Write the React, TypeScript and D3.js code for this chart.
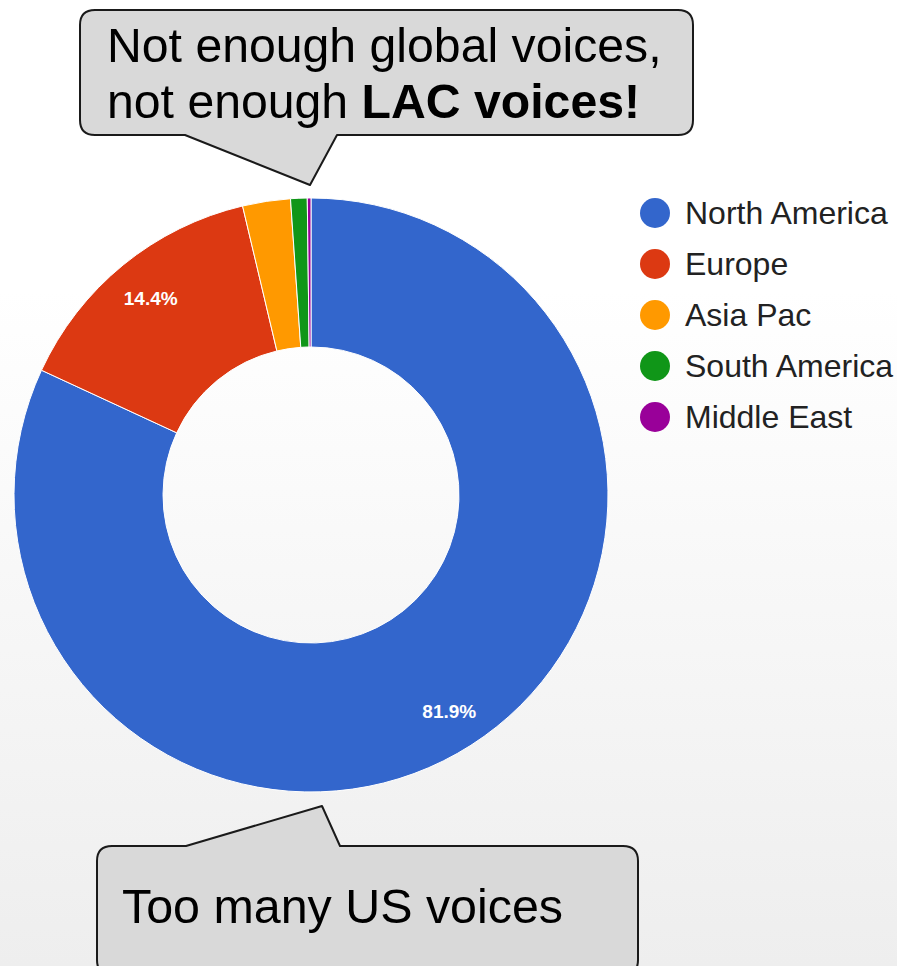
import React from "react";
import * as d3 from "d3";

const regions = ["North America", "Europe", "Asia Pac", "South America", "Middle East"];
const shares = [81.9, 14.4, 2.6, 0.9, 0.2];
const colors = ["#3366cc", "#dc3912", "#ff9900", "#109618", "#990099"];
const shownLabels = ["81.9%", "14.4%", "", "", ""];

const W = 897;
const H = 966;
const cx = 311;
const cy = 495;
const R = 297;
const r = 148;

export default function App() {
  const pie = d3.pie<number>().sort(null).value((d) => d)(shares);
  const arc = d3.arc<d3.PieArcDatum<number>>().innerRadius(r).outerRadius(R);
  const labelArc = d3.arc<d3.PieArcDatum<number>>().innerRadius(255).outerRadius(255);
  const legendY = d3.scalePoint<string>().domain(regions).range([213, 417]);

  const font = "'Liberation Sans', Arial, sans-serif";

  return (
    <svg width={W} height={H} style={{ position: "absolute", left: 0, top: 0 }} fontFamily={font}>
      <defs>
        <linearGradient id="bg" x1="0" y1="0" x2="0" y2="1">
          <stop offset="0.3" stopColor="#ffffff" />
          <stop offset="1" stopColor="#eeeeee" />
        </linearGradient>
      </defs>
      <rect x={0} y={0} width={W} height={H} fill="url(#bg)" />
      <g transform={`translate(${cx},${cy})`}>
        {pie.map((p, i) => (
          <path key={i} d={arc(p) || ""} fill={colors[i]} stroke="#ffffff" strokeWidth={1} />
        ))}
        {pie.map((p, i) => {
          if (!shownLabels[i]) return null;
          const [x, y] = labelArc.centroid(p);
          return (
            <text key={"l" + i} x={x + 1} y={y + 1} dy="0.35em" textAnchor="middle" fill="#ffffff" fontSize={19} fontWeight="bold">
              {shownLabels[i]}
            </text>
          );
        })}
      </g>
      <g>
        {regions.map((name, i) => (
          <g key={name} transform={`translate(0,${legendY(name)})`}>
            <circle cx={655} cy={0} r={15} fill={colors[i]} />
            <text x={685} y={0} dy="0.35em" fontSize={32} fill="#222222">
              {name}
            </text>
          </g>
        ))}
      </g>
      {/* top callout */}
      <path
        d="M95,10 H678 Q693,10 693,25 V120 Q693,135 678,135 H337 L310,185 L185,135 H95 Q80,135 80,120 V25 Q80,10 95,10 Z"
        fill="#d9d9d9"
        stroke="#1a1a1a"
        strokeWidth={2}
        strokeLinejoin="round"
      />
      <text x={107} y={62} fontSize={48.2} fill="#000000">
        Not enough global voices,
      </text>
      <text x={107} y={118} fontSize={48.2} fill="#000000">
        not enough <tspan fontWeight="bold">LAC voices!</tspan>
      </text>
      {/* bottom callout */}
      <path
        d="M112,846 H186 L322,806 L340,846 H623 Q638,846 638,861 V960 Q638,975 623,975 H112 Q97,975 97,960 V861 Q97,846 112,846 Z"
        fill="#d9d9d9"
        stroke="#1a1a1a"
        strokeWidth={2}
        strokeLinejoin="round"
      />
      <text x={122} y={923} fontSize={48.4} fill="#000000">
        Too many US voices
      </text>
    </svg>
  );
}
